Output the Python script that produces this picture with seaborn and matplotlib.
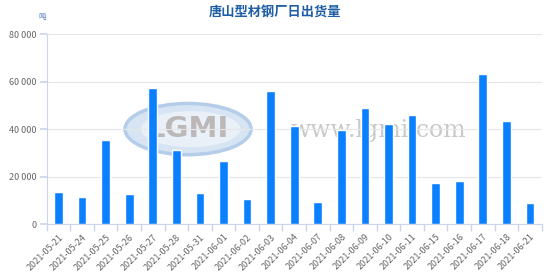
import matplotlib
matplotlib.use("Agg")
import matplotlib.pyplot as plt
from matplotlib.patches import Ellipse
import seaborn as sns
import pandas as pd

dates = ["2021-05-21", "2021-05-24", "2021-05-25", "2021-05-26", "2021-05-27",
         "2021-05-28", "2021-05-31", "2021-06-01", "2021-06-02", "2021-06-03",
         "2021-06-04", "2021-06-07", "2021-06-08", "2021-06-09", "2021-06-10",
         "2021-06-11", "2021-06-15", "2021-06-16", "2021-06-17", "2021-06-18",
         "2021-06-21"]
values = [13400, 11300, 35400, 12700, 57200, 31100, 13100, 26600, 10700, 56000,
          41200, 9100, 39700, 49100, 42300, 46000, 17300, 18100, 63400, 43300,
          8900]
yticks = [0, 20000, 40000, 60000, 80000]
ytick_labels = ["0", "20 000", "40 000", "60 000", "80 000"]
title = "唐山型材钢厂日出货量"
unit = "吨"

sns.set_theme(style="white")
plt.rcParams['font.family'] = ['Noto Sans CJK SC', 'DejaVu Sans']

df = pd.DataFrame({"date": dates, "value": values})

fig = plt.figure(figsize=(5.53, 2.77), dpi=100)
ax = fig.add_axes([0.0844, 0.1913, 0.8952, 0.6849])
ax.set_zorder(2)

# watermark (behind the axes)
wm_logo = Ellipse((0.340, 0.534), 0.228, 0.185, transform=fig.transFigure,
                  facecolor="#d6e4f3", edgecolor="#b4cde9", lw=2.5, zorder=-1)
fig.patches.append(wm_logo)
wm_inner = Ellipse((0.345, 0.534), 0.180, 0.130, transform=fig.transFigure,
                   facecolor="#e9f0f8", edgecolor="none", zorder=-1)
fig.patches.append(wm_inner)
fig.text(0.340, 0.534, "LGMI", ha="center", va="center", fontsize=21,
         color="#bdb8b8", fontweight="bold", family="DejaVu Sans", zorder=-1)
fig.text(0.685, 0.530, "www.lgmi.com", ha="center", va="center", fontsize=17,
         color="#c8c8c8", family="DejaVu Serif", zorder=-1)

sns.barplot(data=df, x="date", y="value", color="#0b80ff", saturation=1,
            width=0.37, ax=ax, zorder=3)

ax.set_ylim(0, 80000)
ax.set_xlim(-0.5, len(dates) - 0.5)
ax.set_yticks(yticks)
ax.set_yticklabels(ytick_labels)
ax.yaxis.grid(True, color="#e6e6e6", lw=0.8, zorder=0)
ax.set_axisbelow(True)
ax.patch.set_alpha(0)

for s in ["top", "right"]:
    ax.spines[s].set_visible(False)
ax.spines["left"].set_color("#ccd6eb")
ax.spines["bottom"].set_color("#ccd6eb")
ax.spines["left"].set_linewidth(0.8)
ax.spines["bottom"].set_linewidth(0.8)

ax.tick_params(axis="y", length=5, color="#ccd6eb", labelsize=6.5,
               labelcolor="#666666", pad=2, left=True)
ax.set_xticks(range(len(dates)))
ax.set_xticklabels(dates, rotation=45, ha="right", rotation_mode="anchor")
ax.tick_params(axis="x", which="major", length=0, labelsize=6.5,
               labelcolor="#666666", pad=6)
ax.set_xticks([i - 0.5 for i in range(len(dates) + 1)], minor=True)
ax.tick_params(axis="x", which="minor", length=5, color="#ccd6eb", bottom=True)
ax.set_xlabel("")
ax.set_ylabel("")

fig.text(0.497, 0.958, title, ha="center", va="center", fontsize=9.5,
         fontweight="bold", color="#1f5ea5")
fig.text(0.076, 0.940, unit, ha="center", va="center", fontsize=5.5, color="#4a78b8")

fig.savefig("out.png", dpi=100)
